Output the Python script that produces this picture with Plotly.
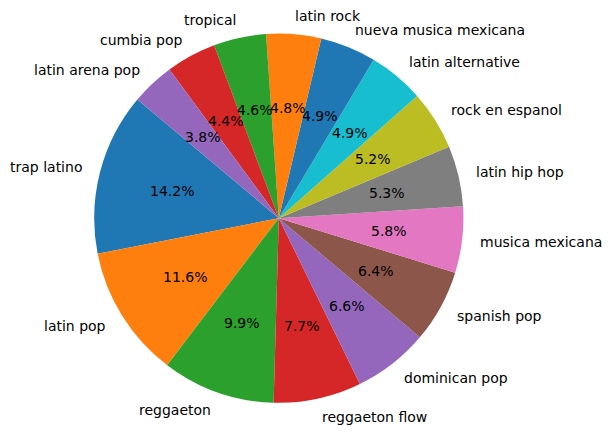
import math
import plotly.graph_objects as go

labels = ["trap latino", "latin pop", "reggaeton", "reggaeton flow", "dominican pop",
          "spanish pop", "musica mexicana", "latin hip hop", "rock en espanol",
          "latin alternative", "nueva musica mexicana", "latin rock", "tropical",
          "cumbia pop", "latin arena pop"]
values = [14.2, 11.6, 9.9, 7.7, 6.6, 6.4, 5.8, 5.3, 5.2, 4.9, 4.9, 4.8, 4.6, 4.4, 3.8]
colors = ["#1f77b4", "#ff7f0e", "#2ca02c", "#d62728", "#9467bd", "#8c564b", "#e377c2",
          "#7f7f7f", "#bcbd22", "#17becf", "#1f77b4", "#ff7f0e", "#2ca02c", "#d62728",
          "#9467bd"]

# page body has an 8px margin, so the figure is placed at (8, 8)
OFF = 8
FW, FH = 612 - 2 * OFF, 435 - 2 * OFF
cx, cy, r = 278.8, 218.2, 184.6   # pie centre / radius in window pixels
start = 140  # degrees, counterclockwise from 3 o'clock
total = sum(values)


def px(x):
    return (x - OFF) / FW


def py(y):
    return 1 - (y - OFF) / FH


# plotly puts the counterclockwise end of the first slice at `rotation`
rot = -(start - 90) - 360 * values[0] / total

fig = go.Figure(go.Pie(
    labels=labels, values=values, sort=False, direction="counterclockwise",
    rotation=rot, marker=dict(colors=colors, line=dict(width=0)),
    textinfo="none", hoverinfo="label+percent", showlegend=False,
    domain=dict(x=[px(cx - r), px(cx + r)], y=[py(cy + r), py(cy - r)]),
))

font = dict(family="DejaVu Sans", size=14, color="black")
acc = 0
for lab, v in zip(labels, values):
    mid = math.radians(start + 360 * (acc + v / 2) / total)
    acc += v
    c, s = math.cos(mid), math.sin(mid)
    fig.add_annotation(x=px(cx + 0.6 * r * c), y=py(cy - 0.6 * r * s),
                       xref="paper", yref="paper", text=f"{100 * v / total:.1f}%",
                       showarrow=False, font=font, xanchor="center", yanchor="middle",
                       borderpad=0, borderwidth=0)
    fig.add_annotation(x=px(cx + 1.1 * r * c), y=py(cy - 1.1 * r * s),
                       xref="paper", yref="paper", text=lab, showarrow=False, font=font,
                       xanchor="left" if c > 0 else "right", yanchor="middle",
                       borderpad=0, borderwidth=0)

fig.update_layout(width=FW, height=FH, margin=dict(l=0, r=0, t=0, b=0),
                  paper_bgcolor="white", plot_bgcolor="white")
fig.write_html("out.html")
